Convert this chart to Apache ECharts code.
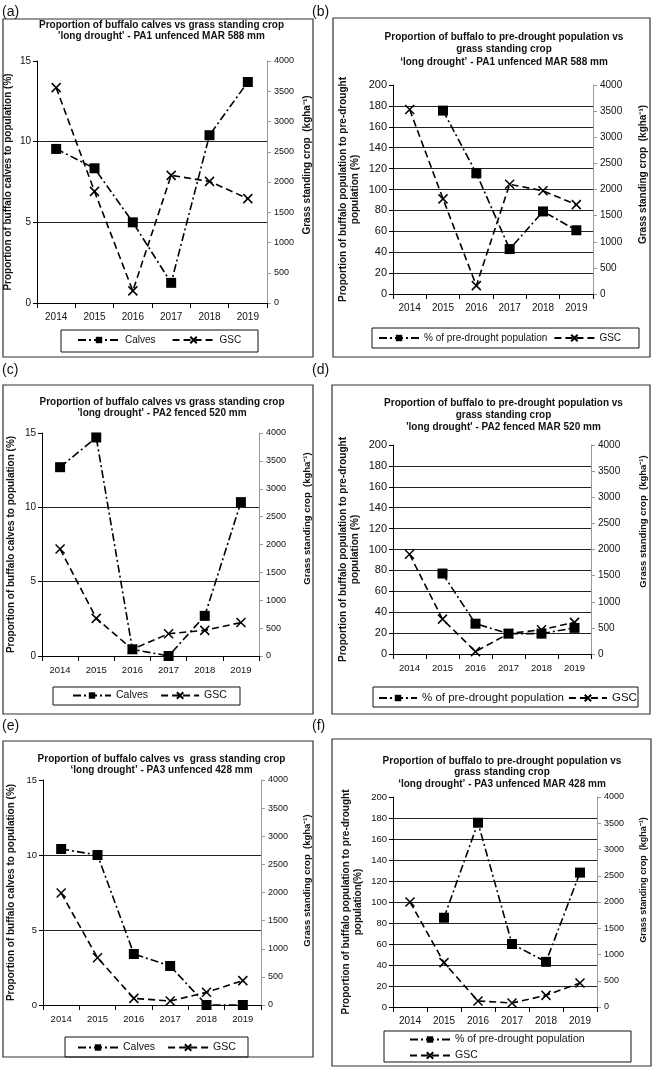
<!DOCTYPE html>
<html>
<head>
<meta charset="utf-8">
<script src="https://cdn.jsdelivr.net/npm/echarts@6/dist/echarts.min.js"></script>
<style>html,body{margin:0;padding:0;background:#fff}#c{width:653px;height:1071px}</style>
</head>
<body>
<div id="c"></div>
<script>
// ---- data ----
const years = ['2014', '2015', '2016', '2017', '2018', '2019'];
// (a) PA1 unfenced
const calvesA = [9.55, 8.35, 5.0, 1.25, 10.4, 13.7];
const gscA = [3560, 1845, 200, 2110, 2010, 1725];
// (b) PA1 unfenced
const preDroughtB = [null, 175.5, 115.5, 43, 79, 61];
const gscB = [3530, 1820, 160, 2100, 1975, 1710];
// (c) PA2 fenced
const calvesC = [12.7, 14.7, 0.45, 0, 2.7, 10.35];
const gscC = [1920, 675, 120, 400, 460, 600];
// (d) PA2 fenced
const preDroughtD = [null, 77, 29, 19.5, 19.5, 25];
const gscD = [1910, 667, 45, 390, 465, 605];
// (e) PA3 unfenced
const calvesE = [10.4, 10.0, 3.4, 2.6, 0, 0];
const gscE = [1990, 840, 118, 71, 225, 433];
// (f) PA3 unfenced
const preDroughtF = [null, 85, 175.5, 60, 43, 128];
const gscF = [2000, 845, 115, 76, 222, 457];

const calvesTicks = {min: 0, max: 15, interval: 5};
const pctTicks = {min: 0, max: 200, interval: 20};
const gscTicks = {min: 0, max: 4000, interval: 500};

const FONT = '"Liberation Sans", Arial, sans-serif';
const calvesAxisName = 'Proportion of buffalo calves to population (%)';
const pctAxisName = 'Proportion of buffalo population to pre-drought\npopulation (%)';
const pctAxisNameF = 'Proportion of buffalo population to pre-drought\npopulation(%)';
const gscAxisName = 'Grass standing crop  (kgha\u207B\u00B9)';
const pctName = '% of pre-drought population';

const panels = [
  {label: '(a)', lx: 2, ly: 12, box: [3, 19, 310, 338],
   title: "Proportion of buffalo calves vs grass standing crop\n'long drought' - PA1 unfenced MAR 588 mm",
   tx: 161.5, ty: 19.2, tlh: 11.5,
   grid: {left: 37, top: 61, width: 230, height: 242},
   s1Name: 'Calves', s1: calvesA, s2: gscA, lt: calvesTicks,
   leftName: calvesAxisName, leftGap: 23, leftFont: 10, rightFont: 9, rightGap: 35, rightShift: 17, rightNameFont: 10, xFont: 10,
   lgBox: [61, 330, 197, 22], lgX: 77, lgY: 335, lgW: 42, lgGap: 16, lgFont: 10, lgOrient: 'horizontal'},
  {label: '(b)', lx: 312, ly: 12, box: [333, 18, 317, 339],
   title: "Proportion of buffalo to pre-drought population vs\ngrass standing crop\n\u2018long drought\u2019 - PA1 unfenced MAR 588 mm",
   tx: 504, ty: 30.8, tlh: 12.5,
   grid: {left: 393, top: 85, width: 200, height: 209},
   s1Name: pctName, s1: preDroughtB, s2: gscB, lt: pctTicks,
   leftName: pctAxisName, leftGap: 32, leftFont: 11, rightFont: 10, rightGap: 45, rightShift: 15, rightNameFont: 10, xFont: 10,
   lgBox: [372, 328, 267, 20], lgX: 378, lgY: 333, lgW: 40, lgGap: 6, lgFont: 10, lgOrient: 'horizontal'},
  {label: '(c)', lx: 2, ly: 370.5, box: [3, 385, 310, 329],
   title: "Proportion of buffalo calves vs grass standing crop\n'long drought' - PA2 fenced 520 mm",
   tx: 162, ty: 396.5, tlh: 11,
   grid: {left: 42, top: 433, width: 217, height: 223},
   s1Name: 'Calves', s1: calvesC, s2: gscC, lt: calvesTicks,
   leftName: calvesAxisName, leftGap: 25, leftFont: 10, rightFont: 9, rightGap: 43, rightShift: 26, rightNameFont: 9.5, xFont: 9.5,
   lgBox: [53, 687, 187, 18], lgX: 72, lgY: 690, lgW: 38, lgGap: 12, lgFont: 10.5, lgOrient: 'horizontal'},
  {label: '(d)', lx: 312, ly: 370.5, box: [332, 385, 318, 329],
   title: "Proportion of buffalo to pre-drought population vs\ngrass standing crop\n'long drought' - PA2 fenced MAR 520 mm",
   tx: 503.5, ty: 397.7, tlh: 12,
   grid: {left: 393, top: 445, width: 198, height: 209},
   s1Name: pctName, s1: preDroughtD, s2: gscD, lt: pctTicks,
   leftName: pctAxisName, leftGap: 32, leftFont: 11, rightFont: 10, rightGap: 47, rightShift: 28, rightNameFont: 9.5, xFont: 9.5,
   lgBox: [373, 687, 265, 20], lgX: 378, lgY: 692, lgW: 38, lgGap: 4, lgFont: 11.5, lgOrient: 'horizontal'},
  {label: '(e)', lx: 2, ly: 726, box: [3, 741, 310, 316],
   title: "Proportion of buffalo calves vs  grass standing crop\n\u2018long drought\u2019 - PA3 unfenced 428 mm",
   tx: 161.5, ty: 753.5, tlh: 11,
   grid: {left: 43, top: 780, width: 218, height: 225},
   s1Name: 'Calves', s1: calvesE, s2: gscE, lt: calvesTicks,
   leftName: calvesAxisName, leftGap: 26, leftFont: 9.5, rightFont: 9, rightGap: 41, rightShift: 12, rightNameFont: 9.5, xFont: 9.5,
   lgBox: [65, 1037, 183, 20], lgX: 77, lgY: 1042, lgW: 40, lgGap: 12, lgFont: 10.5, lgOrient: 'horizontal'},
  {label: '(f)', lx: 312, ly: 726, box: [332, 739, 319, 327],
   title: "Proportion of buffalo to pre-drought population vs\ngrass standing crop\n\u2018long drought\u2019 - PA3 unfenced MAR 428 mm",
   tx: 502, ty: 755, tlh: 11.7,
   grid: {left: 393, top: 797, width: 204, height: 210},
   s1Name: pctName, s1: preDroughtF, s2: gscF, lt: pctTicks,
   leftName: pctAxisNameF, leftGap: 29, leftFont: 9.5, rightFont: 9, rightGap: 42, rightShift: 22, rightNameFont: 9, xFont: 10,
   lgBox: [384, 1031, 247, 31], lgX: 409, lgY: 1034, lgW: 40, lgGap: 5, lgFont: 10.5, lgOrient: 'vertical'}
];

const X_PATH = 'path://M0,0L10,10M10,0L0,10';
const plain = v => String(v);
const option = {
  animation: false, backgroundColor: '#fff',
  title: [], grid: [], xAxis: [], yAxis: [], series: [], legend: [], graphic: []
};

panels.forEach((p, i) => {
  option.graphic.push({type: 'rect', shape: {x: p.box[0], y: p.box[1], width: p.box[2], height: p.box[3]},
    style: {fill: 'none', stroke: '#333', lineWidth: 1.2}, silent: true, z: 0});
  option.graphic.push({type: 'rect', shape: {x: p.lgBox[0], y: p.lgBox[1], width: p.lgBox[2], height: p.lgBox[3]},
    style: {fill: 'none', stroke: '#111', lineWidth: 1}, silent: true, z: 0});
  option.graphic.push({type: 'text', x: p.lx, y: p.ly,
    style: {text: p.label, font: '14px ' + FONT, fill: '#111', verticalAlign: 'middle', align: 'left'}});
  option.title.push({text: p.title, left: p.tx, top: p.ty, textAlign: 'center', padding: 0,
    textStyle: {fontSize: 10, fontWeight: 'bold', color: '#111', lineHeight: p.tlh, fontFamily: FONT}});
  option.grid.push(Object.assign({outerBoundsMode: 'none', containLabel: false}, p.grid));
  option.xAxis.push({type: 'category', gridIndex: i, data: years, boundaryGap: true,
    axisLine: {show: true, lineStyle: {color: '#000', width: 1}},
    axisTick: {show: true, length: 5, inside: false, alignWithLabel: false, lineStyle: {color: '#000'}},
    axisLabel: {color: '#111', fontSize: p.xFont, margin: 9, fontFamily: FONT, interval: 0},
    splitLine: {show: false}});
  option.yAxis.push({type: 'value', gridIndex: i, position: 'left',
    min: p.lt.min, max: p.lt.max, interval: p.lt.interval,
    name: p.leftName, nameLocation: 'middle', nameRotate: 90, nameGap: p.leftGap,
    nameTextStyle: {fontWeight: 'bold', fontSize: 10, color: '#111', fontFamily: FONT, lineHeight: 12},
    axisLine: {show: true, lineStyle: {color: '#000', width: 1}},
    axisTick: {show: true, length: 4, inside: false, lineStyle: {color: '#000'}},
    axisLabel: {fontSize: p.leftFont, color: '#111', margin: 6, fontFamily: FONT, formatter: plain},
    splitLine: {show: true, showMinLine: false, showMaxLine: false, lineStyle: {color: '#222', width: 1}}});
  option.yAxis.push({type: 'value', gridIndex: i, position: 'right',
    min: gscTicks.min, max: gscTicks.max, interval: gscTicks.interval,
    name: gscAxisName, nameLocation: 'middle', nameRotate: 90, nameGap: p.rightGap,
    nameTextStyle: {fontWeight: 'bold', fontSize: p.rightNameFont, color: '#111', fontFamily: FONT,
      padding: [0, 0, 0, 2 * p.rightShift]},
    axisLine: {show: true, lineStyle: {color: '#999', width: 1}},
    axisTick: {show: true, length: 4, inside: false, lineStyle: {color: '#999'}},
    axisLabel: {fontSize: p.rightFont, color: '#111', margin: 7, fontFamily: FONT, formatter: plain},
    splitLine: {show: false}});
  option.series.push({type: 'line', name: p.s1Name, xAxisIndex: i, yAxisIndex: 2 * i, data: p.s1,
    symbol: 'rect', symbolSize: 10, showAllSymbol: true, connectNulls: false,
    lineStyle: {color: '#000', width: 1.6, type: [8, 3, 2, 3]},
    itemStyle: {color: '#000'}, z: 3});
  option.series.push({type: 'line', name: 'GSC', xAxisIndex: i, yAxisIndex: 2 * i + 1, data: p.s2,
    symbol: X_PATH, symbolSize: 9, showAllSymbol: true,
    lineStyle: {color: '#000', width: 1.6, type: [7, 4]},
    itemStyle: {color: '#000', borderColor: '#000', borderWidth: 1.5}, z: 3});
  option.legend.push({data: [p.s1Name, 'GSC'], left: p.lgX, top: p.lgY, orient: p.lgOrient,
    itemWidth: p.lgW, itemHeight: 8, itemGap: p.lgGap, padding: 0, selectedMode: false,
    textStyle: {fontSize: p.lgFont, color: '#111', fontFamily: FONT}});
});

const chart = echarts.init(document.getElementById('c'), null, {renderer: 'canvas'});
chart.setOption(option);
</script>
</body>
</html>
